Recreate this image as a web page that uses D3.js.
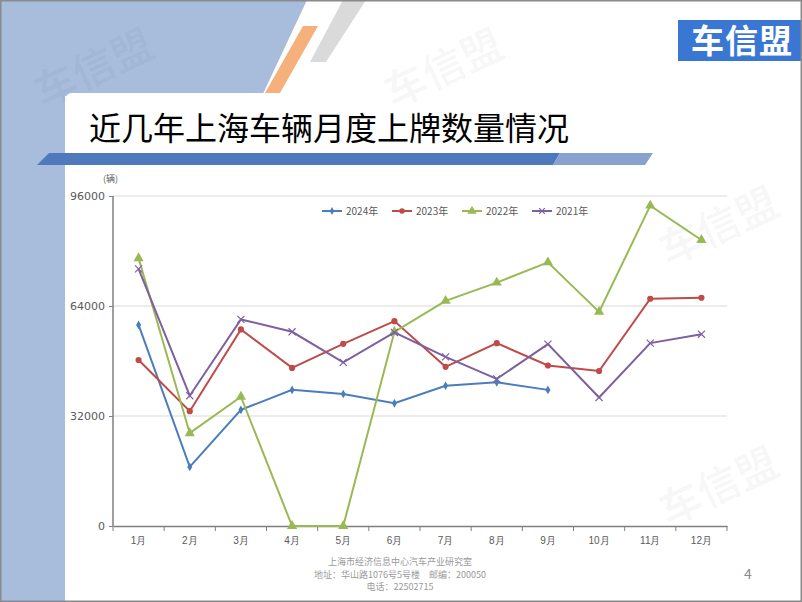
<!DOCTYPE html>
<html><head><meta charset="utf-8">
<script src="https://cdn.jsdelivr.net/npm/d3@7"></script>
<style>body{margin:0;background:#fff;}svg{display:block;font-family:"Noto Sans CJK SC","Noto Sans",sans-serif;}</style>
</head><body>
<svg id="c" width="802" height="602"></svg>
<script>
const months = ["1月","2月","3月","4月","5月","6月","7月","8月","9月","10月","11月","12月"];
const yTicks = [0, 32000, 64000, 96000];
const seriesNames = ["2024年","2023年","2022年","2021年"];
const v2024 = [58500, 17200, 33800, 39600, 38400, 35700, 40800, 41800, 39600, null, null, null];
const v2023 = [48300, 33400, 57200, 46000, 53000, 59600, 46300, 53200, 46700, 45100, 66100, 66400];
const v2022 = [77900, 27000, 37600, 0, 0, 56500, 65500, 70800, 76700, 62300, 93200, 83200];
const v2021 = [74800, 37900, 60100, 56500, 47600, 56300, 49200, 42800, 52900, 37400, 53200, 55800];
const colors = ["#4a7ebb","#be4b48","#98b954","#7d60a0"];
const symbols = [d3.symbolDiamond, d3.symbolCircle, d3.symbolTriangle, d3.symbolCross];
const allSeries = [v2024, v2023, v2022, v2021];

const svg = d3.select("#c");
// background decoration
svg.append("polygon").attr("points","0,0 307,0 262,96 65,96 65,602 0,602").attr("fill","#a8bcdc");
svg.append("polygon").attr("points","303,26 318,26 280,93 265,93").attr("fill","#f6b07c");
svg.append("polygon").attr("points","343,0 366,0 326,62 310,62").attr("fill","#dadada");
svg.append("rect").attr("x",65).attr("y",93).attr("width",760).attr("height",520).attr("rx",7).attr("fill","#fff");

// watermarks
const wm = [[100,82,-25],[450,82,-25],[725,240,-25],[725,500,-25]];
wm.forEach(([x,y,a])=>{
  svg.append("text").attr("transform",`translate(${x},${y}) rotate(${a})`)
    .attr("text-anchor","middle").attr("font-size",42).attr("font-weight","bold")
    .attr("fill","#000").attr("fill-opacity",0.03).text("车信盟");
});

// title
svg.append("text").attr("x",89).attr("y",140).attr("font-size",32).attr("fill","#000").text("近几年上海车辆月度上牌数量情况");
svg.append("polygon").attr("points","49,153 560,153 553,165 37,165").attr("fill","#4f79bd");
svg.append("polygon").attr("points","560,153 653,153 645,165 553,165").attr("fill","#87a2cf");

// logo
svg.append("rect").attr("x",678).attr("y",20).attr("width",124).attr("height",41).attr("fill","#3a77d3");
svg.append("text").attr("x",742).attr("y",53).attr("text-anchor","middle").attr("font-size",33).attr("letter-spacing",1).attr("font-weight","bold").attr("fill","#fff").text("车信盟");

// chart
const x = d3.scaleBand().domain(months).range([113,727]);
const y = d3.scaleLinear().domain([0,96000]).range([526,196]);
const g = svg.append("g");
g.selectAll("line.grid").data(yTicks.filter(d=>d>0)).join("line")
  .attr("x1",113).attr("x2",727).attr("y1",d=>y(d)).attr("y2",d=>y(d))
  .attr("stroke","#d9d9d9").attr("stroke-width",1);
const yAxis = g.append("g").attr("transform","translate(113,0)")
  .call(d3.axisLeft(y).tickValues(yTicks).tickSize(4).tickFormat(d3.format("d")));
yAxis.select(".domain").attr("stroke","#7f7f7f").attr("stroke-width",1.5).attr("d","M0,196V526");
yAxis.selectAll(".tick line").attr("stroke","#7f7f7f");
yAxis.selectAll("text").attr("font-size",11).attr("fill","#595959").attr("x",-8).attr("font-family","'DejaVu Sans',sans-serif");

const xAxis = g.append("g").attr("transform","translate(0,526)")
  .call(d3.axisBottom(x).tickSize(0));
xAxis.select(".domain").attr("stroke","#7f7f7f").attr("stroke-width",1.5);
xAxis.selectAll("text").attr("font-size",10).attr("fill","#595959").attr("dy","1.5em");
g.selectAll("line.xt").data(months).join("line")
  .attr("x1",d=>x(d)+x.bandwidth()).attr("x2",d=>x(d)+x.bandwidth())
  .attr("y1",526).attr("y2",531).attr("stroke","#7f7f7f");
g.append("line").attr("x1",113).attr("x2",113).attr("y1",526).attr("y2",531).attr("stroke","#7f7f7f");

svg.append("text").attr("x",103).attr("y",182).attr("font-size",9).attr("fill","#595959").text("(辆)");

const line = d3.line().defined(d=>d.v!==null).x(d=>x(d.m)+x.bandwidth()/2).y(d=>y(d.v));
const sizes = [22, 30, 45, 40];
allSeries.forEach((vals,i)=>{
  const data = vals.map((v,j)=>({m:months[j],v}));
  g.append("path").datum(data).attr("d",line).attr("fill","none").attr("stroke",colors[i]).attr("stroke-width",2);
  const pts = data.filter(d=>d.v!==null);
  if(i===3){
    g.selectAll(null).data(pts).join("path")
      .attr("transform",d=>`translate(${x(d.m)+x.bandwidth()/2},${y(d.v)}) rotate(45)`)
      .attr("d","M-5,0H5M0,-5V5").attr("stroke",colors[i]).attr("stroke-width",1.2).attr("fill","none");
  } else {
    g.selectAll(null).data(pts).join("path")
      .attr("transform",d=>`translate(${x(d.m)+x.bandwidth()/2},${y(d.v)})`)
      .attr("d",d3.symbol().type(symbols[i]).size(sizes[i])).attr("fill",colors[i]);
  }
});

// legend
const lx = [322, 392, 462, 532];
seriesNames.forEach((n,i)=>{
  const lg = svg.append("g").attr("transform",`translate(${lx[i]},211)`);
  lg.append("line").attr("x1",0).attr("x2",20).attr("stroke",colors[i]).attr("stroke-width",2);
  if(i===3){
    lg.append("path").attr("transform","translate(10,0) rotate(45)").attr("d","M-4,0H4M0,-4V4").attr("stroke",colors[i]).attr("stroke-width",1.2);
  } else {
    lg.append("path").attr("transform","translate(10,0)").attr("d",d3.symbol().type(symbols[i]).size(sizes[i]*0.8)).attr("fill",colors[i]);
  }
  lg.append("text").attr("x",24).attr("y",4).attr("font-size",10).attr("fill","#595959").text(n);
});

// footer
const foot = ["上海市经济信息中心汽车产业研究室","地址：华山路1076号5号楼　邮编：200050","电话：22502715"];
foot.forEach((t,i)=>{
  svg.append("text").attr("x",400).attr("y",565+i*12.5).attr("text-anchor","middle").attr("font-size",9).attr("fill","#9a9a9a").text(t);
});
svg.append("text").attr("x",748).attr("y",579).attr("text-anchor","middle").attr("font-size",14).attr("fill","#8c8c8c").text("4");

// frame
svg.append("rect").attr("x",0.75).attr("y",0.75).attr("width",800.5).attr("height",600.5).attr("fill","none").attr("stroke","#8a8a8a").attr("stroke-width",1.5);
</script>
</body></html>
